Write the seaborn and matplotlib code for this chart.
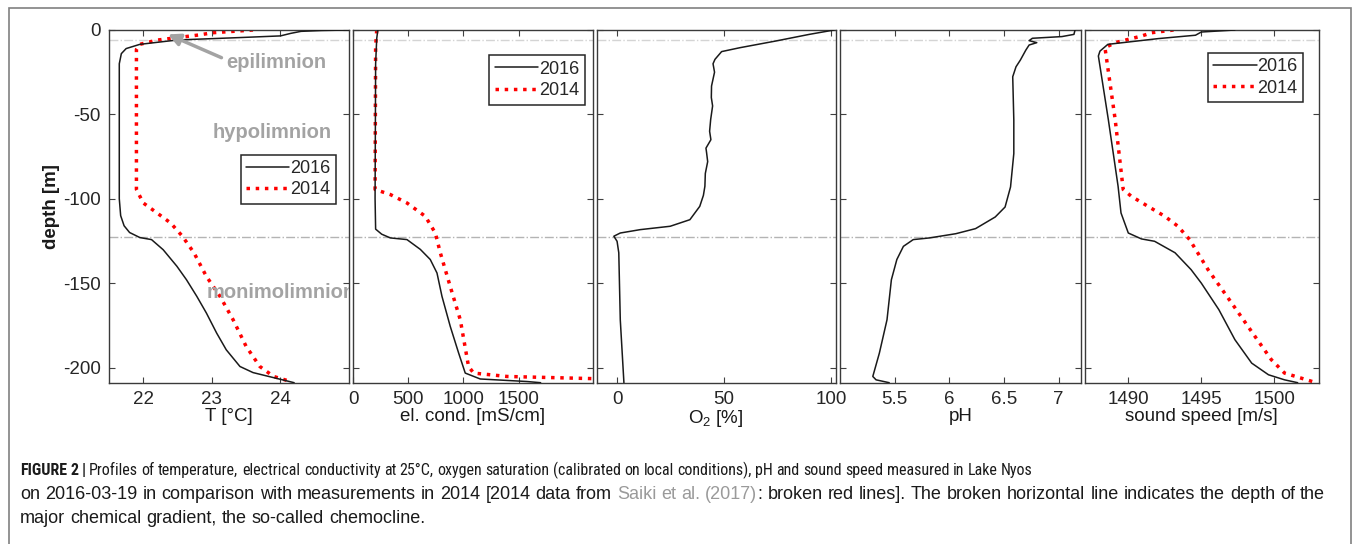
import matplotlib
matplotlib.use("Agg")
import matplotlib.pyplot as plt
import seaborn as sns
from matplotlib import font_manager
from matplotlib.patches import Rectangle

# ---- data (depth in m, negative downwards) ----
t16_depth = [0, -0.3, -0.8, -2, -3.5, -4.5, -5.9, -8.5, -11, -14, -20, -50, -100, -110, -116, -120,
             -123, -124.2, -130.2, -140, -148, -157.8, -167.7, -179.6, -189.5, -199.4, -203, -206, -209]
t16 = [25.0, 24.6, 24.3, 24.15, 24.0, 23.4, 22.5, 21.95, 21.75, 21.68, 21.65, 21.65, 21.65, 21.67, 21.72, 21.8,
       21.95, 22.12, 22.29, 22.49, 22.63, 22.78, 22.92, 23.07, 23.21, 23.41, 23.6, 23.9, 24.2]
t14_depth = [0, -1.6, -3, -4.5, -6, -8.5, -11.5, -94.5, -102.5, -108.4, -114.4, -122.2, -132.1, -146,
             -157.9, -171.7, -187.5, -199.4, -205.3, -208.3]
t14 = [23.6, 23.02, 22.8, 22.5, 22.2, 21.95, 21.9, 21.9, 22.0, 22.2, 22.4, 22.57, 22.74, 22.92,
       23.12, 23.31, 23.5, 23.7, 23.9, 24.15]

c16_depth = [0, -5, -20, -100, -118, -121, -123.2, -124.2, -130, -136, -144, -157.8, -175.6, -191.4,
             -203.3, -206.8, -208.3, -209]
c16 = [225, 215, 205, 200, 205, 260, 338, 489, 610, 700, 761, 806, 881, 957, 1017, 1153, 1576, 1700]
c14_depth = [0, -10, -94.5, -97.5, -102.5, -110.4, -120.3, -132, -152, -171.7, -199.4, -203.3, -205.3, -206.8]
c14 = [215, 205, 200, 338, 489, 655, 746, 791, 881, 972, 1047, 1093, 1395, 2300]

o2_depth = [0, -2.6, -6.5, -10.5, -12.8, -17.4, -20, -25, -33.2, -40, -45, -53, -60, -65, -70, -72.8, -78,
            -85, -92.6, -98, -104.5, -112.4, -116.3, -118.3, -120.3, -122.2, -125.2, -132, -171.7, -209]
o2 = [101.3, 89.7, 74.2, 57.3, 48.8, 45.7, 44.8, 45.5, 44.1, 44.0, 44.6, 43.7, 43.2, 43.8, 41.5, 41.8, 42.3,
      41.2, 41.0, 40.3, 38.6, 34.0, 24.8, 10.8, 1.5, -1.5, 0.0, 0.8, 1.5, 3.2]

ph_depth = [0, -2.6, -3.9, -4.9, -6.3, -7.5, -8.9, -11.9, -17.8, -21.8, -27.7, -53.4, -73.2, -93, -104.9,
            -110.8, -117.7, -120.7, -123.2, -124.2, -128.2, -136, -148, -171.7, -191.5, -205.3, -207.3, -209]
ph = [7.15, 7.14, 7.03, 6.76, 6.73, 6.8, 6.73, 6.7, 6.65, 6.61, 6.58, 6.59, 6.59, 6.56, 6.51,
      6.42, 6.24, 6.06, 5.82, 5.67, 5.58, 5.52, 5.47, 5.43, 5.36, 5.30, 5.33, 5.45]

s16_depth = [0, -1.2, -3.1, -5.1, -8.5, -12.5, -15.4, -53, -92.6, -108.4, -120.3, -123.8, -125.2, -132,
             -142, -150, -165.7, -183.5, -197.4, -204.3, -207.3, -209]
s16 = [1497.3, 1495.0, 1494.6, 1492.05, 1488.6, 1488.06, 1487.95, 1488.63, 1489.3, 1489.5, 1490.0, 1490.9,
       1491.8, 1493.2, 1494.3, 1495.0, 1496.2, 1497.3, 1498.45, 1499.6, 1500.7, 1501.6]
s14_depth = [0, -1.6, -3.6, -7.5, -10.5, -13.4, -53, -94.5, -98.5, -104.5, -110.4, -116.3, -124.2, -142,
             -161.7, -181.5, -195.4, -203.3, -208.3]
s14 = [1493.1, 1491.6, 1490.9, 1489.1, 1488.4, 1488.45, 1489.1, 1489.65, 1490.2, 1491.35, 1492.5, 1493.4,
       1494.2, 1495.46, 1497.07, 1498.67, 1499.8, 1500.7, 1502.6]

epi_depth = -6
chemocline_depth = -122.5

sns.set_theme(style="white")
plt.rcParams['font.family'] = ['Liberation Sans', 'DejaVu Sans']
plt.rcParams['mathtext.default'] = 'regular'
plt.rcParams['axes.unicode_minus'] = False

W, H = 1355, 544
fig = plt.figure(figsize=(W / 100, H / 100), dpi=100)

# panel edges in pixels (small white gaps between the boxes)
edges = [(109, 349), (353, 592.5), (596.5, 836), (840, 1080.5), (1084.5, 1319)]
top_px, bot_px = 30, 382.7
axes = []
for l, r in edges:
    ax = fig.add_axes([l / W, 1 - bot_px / H, (r - l) / W, (bot_px - top_px) / H])
    axes.append(ax)

panels = [
    dict(lines=[(t16, t16_depth, '2016'), (t14, t14_depth, '2014')], xlim=(21.5, 25), xticks=[22, 23, 24],
         xlabel='T [°C]', legend=(0.946, 0.647)),
    dict(lines=[(c16, c16_depth, '2016'), (c14, c14_depth, '2014')], xlim=(0, 2170), xticks=[0, 500, 1000, 1500],
         xlabel='el. cond. [mS/cm]', legend=(0.967, 0.928)),
    dict(lines=[(o2, o2_depth, None)], xlim=(-9.6, 102.2), xticks=[0, 50, 100],
         xlabel='O$_2$ [%]', legend=None),
    dict(lines=[(ph, ph_depth, None)], xlim=(5.0, 7.2), xticks=[5.5, 6, 6.5, 7],
         xlabel='pH', legend=None),
    dict(lines=[(s16, s16_depth, '2016'), (s14, s14_depth, '2014')], xlim=(1487, 1503.06), xticks=[1490, 1495, 1500],
         xlabel='sound speed [m/s]', legend=(0.933, 0.936)),
]

for i, (ax, p) in enumerate(zip(axes, panels)):
    ax.axhline(epi_depth, color='#d4d4d4', ls='-.', lw=1, zorder=1)
    ax.axhline(chemocline_depth, color='#b4b4b4', ls='-.', lw=1, zorder=1)
    for j, (xv, yv, lab) in enumerate(p['lines']):
        if j == 0:
            sns.lineplot(x=xv, y=yv, sort=False, estimator=None, color='#1a1a1a', lw=1.1,
                         label=lab, ax=ax, zorder=3)
        else:
            sns.lineplot(x=xv, y=yv, sort=False, estimator=None, color='#ff0000', lw=2.5,
                         ls=':', label=lab, ax=ax, zorder=2)
    ax.set_xlim(*p['xlim'])
    ax.set_ylim(-209, 0)
    ax.set_xticks(p['xticks'])
    ax.set_xticklabels([f'{t:g}' for t in p['xticks']])
    ax.set_yticks([-200, -150, -100, -50, 0])
    ax.tick_params(direction='in', top=True, right=True, bottom=True, left=True, length=4, width=0.8,
                   color='#404040', labelcolor='#262626', labelsize=13.5, pad=6)
    if i > 0:
        ax.set_yticklabels([])
    for s in ax.spines.values():
        s.set_color('#3a3a3a')
        s.set_linewidth(1.0)
    ax.set_xlabel(p['xlabel'], fontsize=13.5, color='#1a1a1a', labelpad=0)
    if p['legend'] is not None:
        ax.legend(loc='upper right', bbox_to_anchor=p['legend'], fontsize=13, frameon=True, fancybox=False,
                  framealpha=1, edgecolor='#262626', handlelength=2.4, handletextpad=0.05,
                  borderpad=0.3, labelspacing=0.25, borderaxespad=0)
        ax.get_legend().get_frame().set_linewidth(1.1)
    elif ax.get_legend() is not None:
        ax.get_legend().remove()

axes[0].set_ylabel('depth [m]', fontsize=13.5, fontweight='bold', color='#1a1a1a', labelpad=2)

# zone labels in the first panel
grey = '#a3a3a3'
a0 = axes[0]
a0.text(0.699, 0.907, 'epilimnion', transform=a0.transAxes, ha='center', va='center', fontsize=14.5,
        fontweight='bold', color=grey)
a0.text(0.678, 0.709, 'hypolimnion', transform=a0.transAxes, ha='center', va='center', fontsize=14.5,
        fontweight='bold', color=grey)
a0.text(0.407, 0.255, 'monimolimnion', transform=a0.transAxes, ha='left', va='center', fontsize=14.5,
        fontweight='bold', color=grey, clip_on=True)
a0.annotate('', xy=(22.36, -2.6), xytext=(23.14, -16.4),
            arrowprops=dict(arrowstyle='-|>', color=grey, lw=2.5, mutation_scale=18, shrinkA=0, shrinkB=0))

# outer frame
fig.patches.append(Rectangle((9 / W, -0.05), (1351 - 9) / W, 1.05 - 8 / H, transform=fig.transFigure,
                             fill=False, edgecolor='#808080', lw=1.2))

# caption, placed word by word
renderer = fig.canvas.get_renderer()
FAM = ['Liberation Sans', 'DejaVu Sans']

# the first caption line is set in a condensed face in the original; use one if installed
installed = {f.name for f in font_manager.fontManager.ttflist}
NARROW = None
for cand in ['Roboto Condensed', 'Liberation Sans Narrow', 'Open Sans Condensed', 'Noto Sans Condensed',
             'DejaVu Sans Condensed']:
    if cand in installed:
        NARROW = [cand, 'DejaVu Sans']
        break


def width_px(s, size, fam, weight='normal'):
    t = fig.text(0, 0, s, fontsize=size, family=fam, fontweight=weight)
    w = t.get_window_extent(renderer=renderer).width
    t.remove()
    return w


def caption_line(segments, y_px, size, target_right=None, space_factor=1.0, fam=FAM):
    tokens = []
    for k, (seg, kw) in enumerate(segments):
        lead = seg.startswith(' ') or (k > 0 and segments[k - 1][0].endswith(' '))
        for n, word in enumerate(seg.split()):
            tokens.append((word, kw, (n > 0) or (lead and len(tokens) > 0)))
    space = width_px('a a', size, fam) - width_px('aa', size, fam)
    widths = [width_px(w, size, fam, kw.get('weight', 'normal')) for w, kw, _ in tokens]
    n_sp = sum(1 for *_, sp in tokens if sp)
    gap = space * space_factor
    if target_right is not None:
        scale = (target_right - 20) / (sum(widths) + n_sp * gap)
        size *= scale
        widths = [w * scale for w in widths]
        gap *= scale
    x = 20.0
    for (word, kw, sp), w in zip(tokens, widths):
        if sp:
            x += gap
        fig.text(x / W, 1 - y_px / H, word, fontsize=size, family=fam, ha='left', va='baseline',
                 color=kw.get('color', '#1a1a1a'), fontweight=kw.get('weight', 'normal'))
        x += w
    return size


line1 = [('FIGURE 2 |', {'weight': 'bold'}),
         (' Profiles of temperature, electrical conductivity at 25°C, oxygen saturation (calibrated on local '
          'conditions), pH and sound speed measured in Lake Nyos', {})]
if NARROW is not None:
    caption_line(line1, 475, 12.5, target_right=1033, space_factor=0.9, fam=NARROW)
else:
    caption_line(line1, 475, 11.5, target_right=1033, space_factor=0.8)
s2 = caption_line([('on 2016-03-19 in comparison with measurements in 2014 [2014 data from ', {}),
                   ('Saiki et al. (2017)', {'color': '#9a9a9a'}),
                   (': broken red lines]. The broken horizontal line indicates the depth of the', {})],
                  499, 12.5, target_right=1325)
caption_line([('major chemical gradient, the so-called chemocline.', {})], 523, s2)

fig.savefig('out.png', dpi=100)
